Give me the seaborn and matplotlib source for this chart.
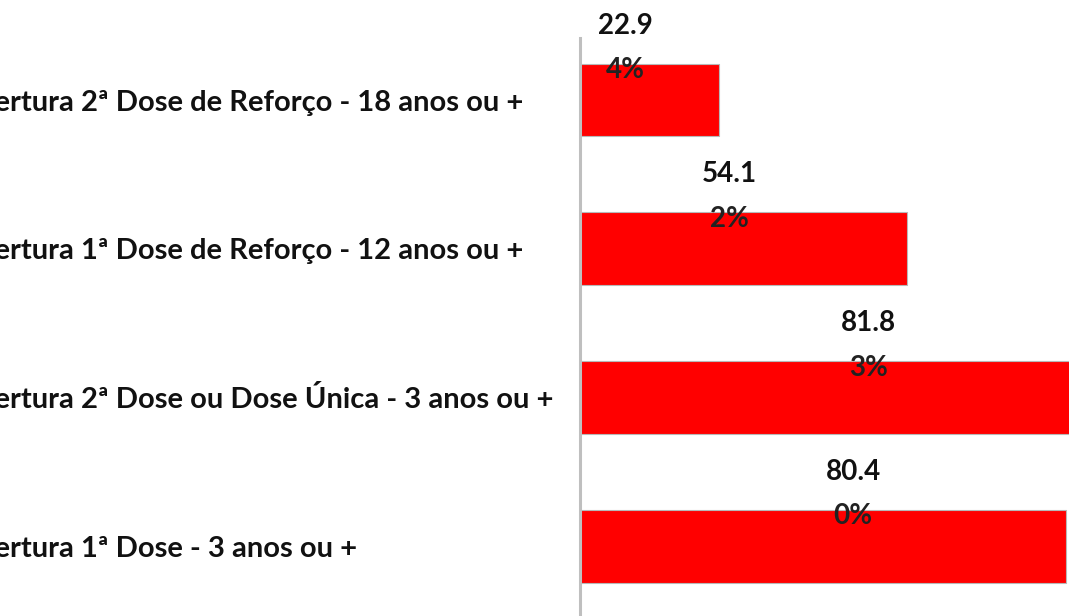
import matplotlib

matplotlib.use("Agg")
import pandas as pd
import seaborn as sns
import matplotlib.pyplot as plt

# Data
categories = [
    "Cobertura 2ª Dose de Reforço - 18 anos ou +",
    "Cobertura 1ª Dose de Reforço - 12 anos ou +",
    "Cobertura 2ª Dose ou Dose Única - 3 anos ou +",
    "Cobertura 1ª Dose - 3 anos ou +",
]
coverage = [22.94, 54.12, 81.83, 80.40]

# where the wrapped value labels sit (data units along x)
label_x = [7.5, 24.7, 47.7, 45.2]

sns.set_theme(style="white")
plt.rcParams["font.family"] = ["Lato", "DejaVu Sans"]

df = pd.DataFrame({"categoria": categories, "cobertura": coverage})

fig = plt.figure(figsize=(10.69, 6.16), dpi=100)
# axes is wider than the figure: the original picture is cropped on the right
ax = fig.add_axes([580 / 1069, 0.0, 604 / 1069, 1 - 38 / 616])

sns.barplot(
    data=df, y="categoria", x="cobertura", orient="h",
    color="#ff0000", saturation=1, width=0.49,
    edgecolor="#b8b8b8", linewidth=0.8, ax=ax,
)

ax.set_xlim(0, 100)
ax.set_ylim(3.47, -0.417)
ax.set_xlabel("")
ax.set_ylabel("")
ax.set_xticks([])

for side in ["top", "right", "bottom"]:
    ax.spines[side].set_visible(False)
ax.spines["left"].set_color("#bfbfbf")
ax.spines["left"].set_linewidth(2.2)

# category labels are left aligned and start left of the picture (cut off)
ax.tick_params(axis="y", length=0, pad=638 * 72 / 100)
for lbl in ax.get_yticklabels():
    lbl.set_horizontalalignment("left")
    lbl.set_fontsize(21)
    lbl.set_fontweight("bold")
    lbl.set_color("#111111")

# value labels, wrapped the way the original shows them
for i, (v, lx) in enumerate(zip(coverage, label_x)):
    s = f"{v:.2f}%"
    ax.text(lx, i - 0.5, s[:4], ha="center", va="center",
            fontsize=20, fontweight="bold", color="#111111")
    ax.text(lx, i - 0.2, s[4:], ha="center", va="center",
            fontsize=20, fontweight="bold", color="#222222")

fig.savefig("out.png", dpi=100)
